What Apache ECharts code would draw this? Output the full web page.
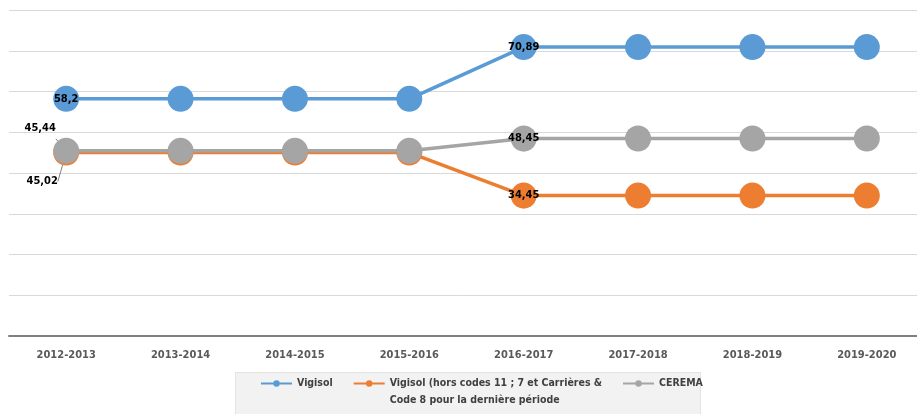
<!DOCTYPE html>
<html>
<head>
<meta charset="utf-8">
<script src="https://cdn.jsdelivr.net/npm/echarts@6/dist/echarts.min.js"></script>
<style>
  html, body { margin: 0; padding: 0; background: #fff; }
  #chart { width: 917px; height: 414px; }
</style>
</head>
<body>
<div id="chart"></div>
<script>
// données
const periodes = ['2012-2013', '2013-2014', '2014-2015', '2015-2016', '2016-2017', '2017-2018', '2018-2019', '2019-2020'];
const vigisol = [58.2, 58.2, 58.2, 58.2, 70.89, 70.89, 70.89, 70.89];
const vigisolHors = [45.02, 45.02, 45.02, 45.02, 34.45, 34.45, 34.45, 34.45];
const cerema = [45.44, 45.44, 45.44, 45.44, 48.45, 48.45, 48.45, 48.45];
const nomsSeries = ['Vigisol', 'Vigisol (hors codes 11 ; 7 et Carrières & Code 8 pour la dernière période', 'CEREMA'];

const police = "'DejaVu Sans Condensed', sans-serif";
const virgule = v => String(v).replace('.', ',');

const etiquette = { show: true, position: 'inside', color: '#000', fontWeight: 'bold', fontSize: 11, fontFamily: police, formatter: p => virgule(p.value) };

function points(valeurs, labels) {
  return valeurs.map((v, i) => labels[i] ? { value: v, label: labels[i] } : v);
}

const myChart = echarts.init(document.getElementById('chart'));
myChart.setOption({
  animation: false,
  graphic: [{
    type: 'rect', left: 235, top: 372, z: -1,
    shape: { width: 465, height: 50 },
    style: { fill: '#f2f2f2', stroke: '#e3e3e3', lineWidth: 1 }
  }],
  grid: { left: 9, width: 915, top: 10, bottom: 78, outerBoundsMode: 'none' },
  legend: {
    data: nomsSeries,
    left: 260, top: 358,
    padding: 0,
    itemWidth: 31, itemHeight: 8, itemGap: 20,
    textStyle: { color: '#404040', fontSize: 10.5, fontWeight: 'bold', fontFamily: police, lineHeight: 17 },
    // le libellé long passe sur deux lignes, la première alignée sur le pictogramme
    formatter: n => n.indexOf(' Code 8') > 0 ? '\n' + n.replace(' Code 8', '\nCode 8') : n
  },
  xAxis: {
    type: 'category',
    data: periodes,
    boundaryGap: true,
    axisLine: { lineStyle: { color: '#7f7f7f', width: 2 } },
    axisTick: { show: false },
    axisLabel: { color: '#595959', fontSize: 11, fontWeight: 'bold', fontFamily: police, margin: 14 }
  },
  yAxis: {
    type: 'value', min: 0, max: 80, interval: 10,
    axisLabel: { show: false },
    axisLine: { show: false },
    splitLine: { lineStyle: { color: '#d9d9d9', width: 1 } }
  },
  series: [
    {
      name: nomsSeries[0], type: 'line', color: '#5b9bd5',
      symbol: 'circle', symbolSize: 26, lineStyle: { width: 3.5 },
      label: { show: false },
      data: points(vigisol, { 0: etiquette, 4: etiquette })
    },
    {
      name: nomsSeries[1], type: 'line', color: '#ed7d31',
      symbol: 'circle', symbolSize: 26, lineStyle: { width: 3.5 },
      label: { show: false },
      labelLine: { show: true, lineStyle: { color: '#7f7f7f', width: 1 } },
      data: points(vigisolHors, {
        0: Object.assign({}, etiquette, { offset: [-24, 29] }),
        4: etiquette
      })
    },
    {
      name: nomsSeries[2], type: 'line', color: '#a5a5a5',
      symbol: 'circle', symbolSize: 26, lineStyle: { width: 3.5 },
      label: { show: false },
      labelLine: { show: true, lineStyle: { color: '#7f7f7f', width: 1 } },
      data: points(cerema, {
        0: Object.assign({}, etiquette, { offset: [-26, -23] }),
        4: etiquette
      })
    }
  ]
});
</script>
</body>
</html>
